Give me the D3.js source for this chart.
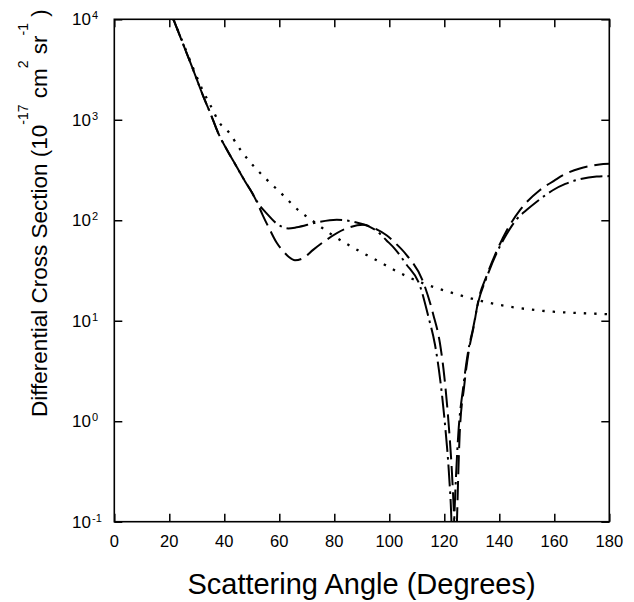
<!DOCTYPE html>
<html><head><meta charset="utf-8">
<script src="https://cdn.jsdelivr.net/npm/d3@7"></script>
<style>body{margin:0;background:#fff}svg{display:block}text{font-family:"Liberation Sans",Arial,sans-serif;fill:#000}</style>
</head><body><svg id="c" width="634" height="602"></svg>
<script>
// ---- data ----
const xTicks = [0,20,40,60,80,100,120,140,160,180];
const yTickExps = [-1,0,1,2,3,4];

// long-dashed curve
const dashedAngle = [21.5,25,28.7,32.4,35,37.8,41,44.5,47.5,50,51.8,54,56.6,59,61.5,63.5,65.7,68.7,72.4,77.2,84.5,90.5,95.4,99,102,106.3,112.4,116,118.4,120,121.5,122.8,123.6,124.1,124.6,125.6,127.2,128.9,130.6,132.4,135.4,139,142.7,147.5,154.8,160,163.3,169.3,174,177.8,180];
const dashedValue = [10000,5690,3130,1700,1150,735,500,341,245,190,153,112,80,60,49,43,40,42,51,64,83,90,81,71,60,45,24,11.5,6,2.8,1.0,0.3,0.1,0.03,0.1,0.75,2.2,5,8.5,16,28,49,79,126,200,248,282,328,350,363,365];

// dash-dot curve
const dashDotAngle = [21.5,25,28.7,32.4,35,37.8,41,44.5,47.5,50,51.8,55.4,59,63.3,66.3,73.6,80.9,88.1,92.9,95.5,99,102,106,111.2,114.2,116.6,118.5,120.3,121.7,122.6,123.1,123.6,124.3,125.1,126.9,128.7,130.5,132.4,135.4,139,142.7,146,150,153.6,159.6,164,168.1,175.4,180];
const dashDotValue = [10000,5690,3130,1700,1150,735,500,341,245,190,155,117,93,83,85,95,101,95,86,78,63,52,37,22,11,5.8,2.6,0.9,0.3,0.1,0.03,0.1,0.3,0.75,2.2,5,8.5,15.5,27,47,73,100,127,153,200,230,251,272,275];

// dotted curve
const dottedAngle = [21.5,25,28.7,32,34.9,38.4,41.5,45.7,50.5,54.2,60.9,67.5,71.2,78.4,85.1,91.8,95.4,102.7,112.4,123.3,131.8,143.9,159.6,170,180];
const dottedValue = [10000,5800,3250,2000,1400,922,760,510,350,274,183,122,103,74,57,45,40,31,23.5,18.8,16.1,13.8,12.3,11.9,11.6];

// ---- chart ----
const svg = d3.select("#c");
const L=114.3, R=609.3, T=19.3, B=521.7;
const x = d3.scaleLinear().domain([0,180]).range([L,R]);
const y = d3.scaleLog().domain([0.1,1e4]).range([B,T]);

svg.append("defs").append("clipPath").attr("id","clip")
  .append("rect").attr("x",L).attr("y",T).attr("width",R-L).attr("height",B-T);

const line = d3.line().x(d=>x(d[0])).y(d=>y(d[1])).curve(d3.curveMonotoneX);
const g = svg.append("g").attr("clip-path","url(#clip)");
function draw(a,v,dash,w){
  g.append("path").datum(a.map((d,i)=>[d,v[i]])).attr("d",line)
   .attr("fill","none").attr("stroke","#000").attr("stroke-width",w)
   .attr("stroke-dasharray",dash);
}
draw(dottedAngle,dottedValue,"2.4,8",2.3);
draw(dashedAngle,dashedValue,"19,7",2);
draw(dashDotAngle,dashDotValue,"22,5,2.5,5",2);

// axes
const tv = yTickExps.map(e=>Math.pow(10,e));
svg.append("g").attr("transform",`translate(0,${B})`)
  .call(d3.axisTop(x).tickValues(xTicks).tickSize(8).tickFormat(""))
  .call(s=>s.select(".domain").remove());
svg.append("g").attr("transform",`translate(0,${T})`)
  .call(d3.axisBottom(x).tickValues(xTicks).tickSize(8).tickFormat(""))
  .call(s=>s.select(".domain").remove());
svg.append("g").attr("transform",`translate(${L},0)`)
  .call(d3.axisRight(y).tickValues(tv).tickSize(8).tickFormat(""))
  .call(s=>s.select(".domain").remove());
svg.append("g").attr("transform",`translate(${R},0)`)
  .call(d3.axisLeft(y).tickValues(tv).tickSize(8).tickFormat(""))
  .call(s=>s.select(".domain").remove());
svg.selectAll(".tick line").attr("stroke","#000").attr("stroke-width",1.5);
svg.append("rect").attr("x",L).attr("y",T).attr("width",R-L).attr("height",B-T)
  .attr("fill","none").attr("stroke","#000").attr("stroke-width",1.6);

// x tick labels
svg.append("g").selectAll("text").data(xTicks).join("text")
  .attr("x",d=>x(d)).attr("y",547).attr("text-anchor","middle")
  .attr("font-size",16.5).text(d=>d);

// y tick labels
const yl = svg.append("g").selectAll("g").data(yTickExps).join("g")
  .attr("transform",d=>`translate(0,${y(Math.pow(10,d))})`);
yl.append("text").attr("x",91).attr("y",6).attr("text-anchor","end").attr("font-size",17).text("10");
yl.append("text").attr("x",92).attr("y",0).attr("font-size",11).text(d=>d<0?"-"+(-d):d);

// axis titles
svg.append("text").attr("x",361.5).attr("y",594).attr("text-anchor","middle")
  .attr("font-size",29).text("Scattering Angle (Degrees)");

const yt = svg.append("text").attr("transform","translate(47,417) rotate(-90)")
  .attr("font-size",22.5);
yt.append("tspan").text("Differential Cross Section (10");
yt.append("tspan").attr("dy",-19).attr("font-size",14).text("-17");
yt.append("tspan").attr("dy",19).text(" cm");
yt.append("tspan").attr("dy",-19).attr("font-size",14).text("2");
yt.append("tspan").attr("dy",19).text(" sr");
yt.append("tspan").attr("dy",-19).attr("font-size",14).text("-1");
yt.append("tspan").attr("dy",19).text(" )");
</script></body></html>
